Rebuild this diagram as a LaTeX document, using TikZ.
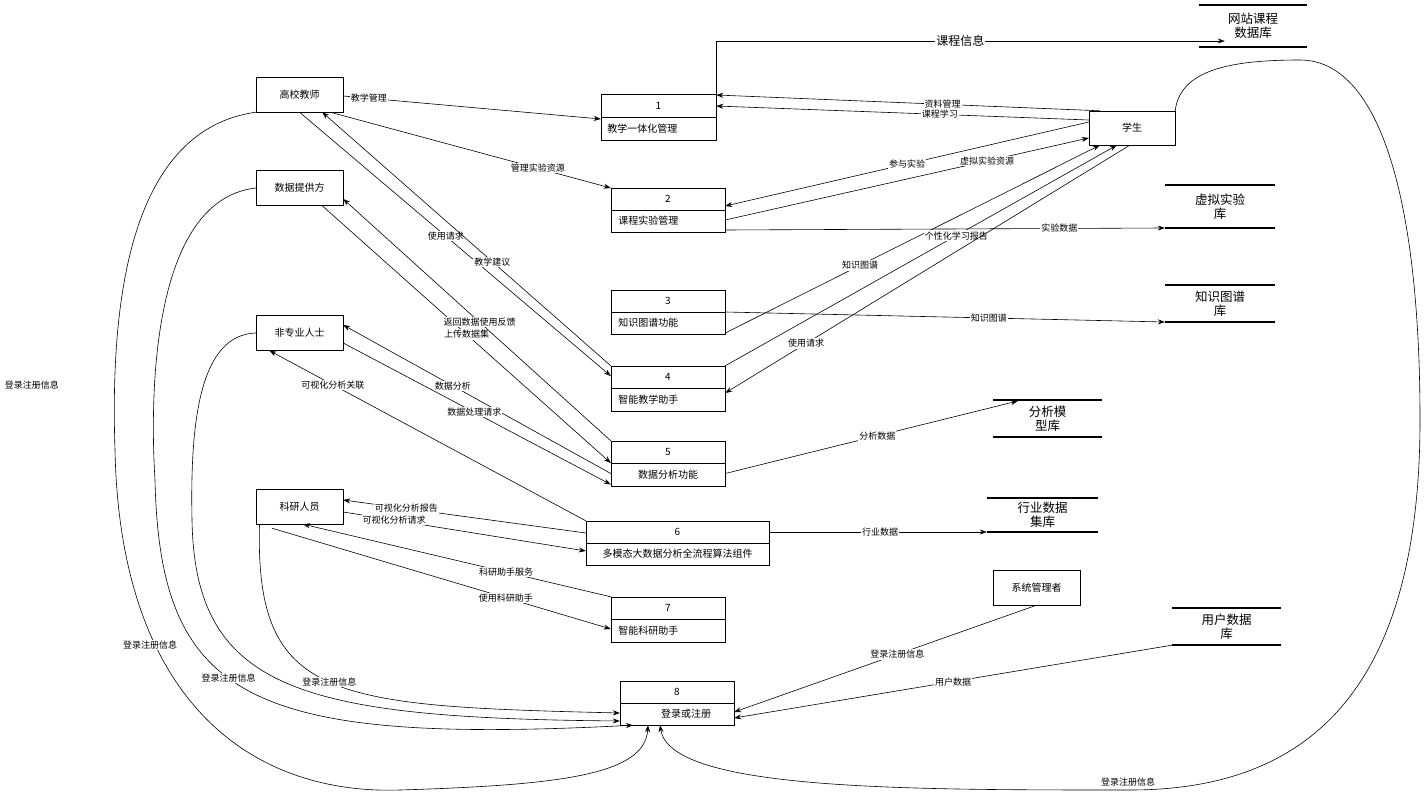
\documentclass[tikz,border=0pt]{standalone}
\usepackage{fontspec}
\setmainfont{Noto Sans CJK SC}
\usetikzlibrary{arrows.meta}
\begin{document}
\begin{tikzpicture}[x=1pt,y=-1pt,
  ent/.style={draw,minimum width=87pt,minimum height=35pt,font=\fontsize{10}{12}\selectfont,inner sep=0pt},
  proc/.style={draw,inner sep=0pt},
  store/.style={inner sep=0pt,font=\fontsize{12.5}{14}\selectfont,align=center},
  arr/.style={-{Stealth[length=7pt,width=5pt]},line width=0.6pt},
  lab/.style={fill=white,inner sep=1pt,font=\fontsize{9}{10}\selectfont},
  ptxt/.style={font=\fontsize{10}{12}\selectfont}]
\useasboundingbox (0,0) rectangle (1425,792);
% entities
\node[ent] (tea) at (299.5,94.5) {高校教师};
\node[ent] (prov) at (299.5,188) {数据提供方};
\node[ent] (nonp) at (299.5,333) {非专业人士};
\node[ent] (res) at (299.5,506.5) {科研人员};
\node[ent,minimum width=86pt,minimum height=34pt] (stu) at (1132,128) {学生};
\node[ent] (adm) at (1036.5,587.5) {系统管理者};
% processes
\newcommand\pr[9]{%
  \node[proc,minimum width=#4pt,minimum height=#5pt] (#1) at (#2,#3) {};
  \draw (#1.west) -- (#1.east);
  \node[ptxt] at ([yshift=#5pt/4]#1.center) {#6};
  \node[ptxt,anchor=#8] at ([xshift=#9,yshift=-#5pt/4]#1.#7) {\csname txt#1\endcsname};}
\def\txtpa{教学一体化管理}
\def\txtpb{课程实验管理}
\def\txtpc{知识图谱功能}
\def\txtpd{智能教学助手}
\def\txtpe{数据分析功能}
\def\txtpf{多模态大数据分析全流程算法组件}
\def\txtpg{智能科研助手}
\def\txtph{登录或注册}
\pr{pa}{658.5}{117}{115}{46}{1}{west}{west}{3pt}
\pr{pb}{668}{210}{114}{44}{2}{west}{west}{4pt}
\pr{pc}{668}{312}{114}{44}{3}{west}{west}{4pt}
\pr{pd}{668}{388.5}{114}{45}{4}{west}{west}{4pt}
\pr{pe}{668}{463.5}{114}{45}{5}{center}{center}{0pt}
\pr{pf}{677.5}{543}{183}{44}{6}{center}{center}{0pt}
\pr{pg}{668}{619.5}{114}{45}{7}{west}{west}{4pt}
\pr{ph}{677}{703}{114}{44}{8}{center}{center}{9pt}
% stores
\newcommand\st[5]{%
  \node[store,minimum width=#4pt,minimum height=#5pt] (#1) at (#2,#3) {\csname txt#1\endcsname};
  \draw[line width=1.5pt] (#1.north west) -- (#1.north east) (#1.south west) -- (#1.south east);}
\def\txtsa{网站课程\\数据库}
\def\txtsb{虚拟实验\\库}
\def\txtsc{知识图谱\\库}
\def\txtsd{分析模\\型库}
\def\txtse{行业数据\\集库}
\def\txtsf{用户数据\\库}
\st{sa}{1253}{26}{108}{42}
\st{sb}{1220}{206.5}{110}{43}
\st{sc}{1220}{303.5}{110}{37}
\st{sd}{1047.5}{418.5}{109}{37}
\st{se}{1042.5}{515}{111}{34}
\st{sf}{1226.5}{626.5}{109}{37}
% connectors
\draw[arr] ([yshift=-1.5pt]tea.east) -- node[lab,pos=0.1]{教学管理} ([yshift=-2pt]pa.west);
\draw[arr] (pa.north east) |- node[lab,pos=0.74,font=\fontsize{12}{14}\selectfont]{课程信息} ([xshift=26pt,yshift=-15pt]sa.west);
\draw[arr] ([xshift=11pt]stu.north west) -- node[lab,pos=0.41]{资料管理} ([yshift=22pt]pa.east);
\draw[arr] ([yshift=8pt]stu.west) -- node[lab,pos=0.4]{课程学习} ([yshift=11pt]pa.east);
\draw[arr] ([yshift=6pt]stu.west) -- node[lab,pos=0.5]{参与实验} ([yshift=4pt]pb.east);
\draw[arr] ([yshift=-10pt]pb.east) -- node[lab,pos=0.72]{虚拟实验资源} ([yshift=-10pt]stu.west);
\draw[arr] ([yshift=-20pt]pb.east) -- node[lab,pos=0.76]{实验数据} ([yshift=-21.5pt]sb.west);
\draw[arr] ([yshift=-21pt]pc.east) -- node[lab,pos=0.36]{知识图谱} ([xshift=11pt]stu.south west);
\draw[arr] (pd.north east) -- node[lab,pos=0.59]{个性化学习报告} ([xshift=28pt]stu.south west);
\draw[arr] ([xshift=41pt]stu.south west) -- node[lab,pos=0.8]{使用请求} ([yshift=-4.5pt]pd.east);
\draw[arr] (pc.east) -- node[lab,pos=0.6]{知识图谱} ([yshift=-18.5pt]sc.west);
\draw[arr] ([xshift=-13pt]tea.south east) -- node[lab,pos=0.74]{管理实验资源} ([yshift=22pt]pb.west);
\draw[arr] (tea.south) -- node[lab,pos=0.47]{使用请求} ([yshift=12.5pt]pd.west);
\draw[arr] (pd.north west) -- node[lab,pos=0.41]{教学建议} ([xshift=-21pt]tea.south east);
\draw[arr] ([xshift=-21pt]prov.south east) -- node[lab,pos=0.5]{上传数据集} ([yshift=0.5pt]pe.west);
\draw[arr] (pe.north west) -- node[lab,pos=0.49]{返回数据使用反馈} ([yshift=-11pt]prov.east);
\draw[arr] ([yshift=-10pt]pe.west) -- node[lab,pos=0.59]{数据分析} ([yshift=8pt]nonp.east);
\draw[arr] ([yshift=-10pt]nonp.east) -- node[lab,pos=0.49]{数据处理请求} ([yshift=-21pt]pe.west);
\draw[arr] (pf.north west) -- node[lab,pos=0.8]{可视化分析关联} ([xshift=-30pt]nonp.south);
\draw[arr] ([yshift=-10pt]pe.east) -- node[lab,pos=0.52]{分析数据} ([xshift=25pt,yshift=17.5pt]sd.west);
\draw[arr] ([yshift=11pt]pf.east) -- node[lab,pos=0.51]{行业数据} ([yshift=-17pt]se.west);
\draw[arr] ([yshift=10pt]pf.west) -- node[lab,pos=0.74]{可视化分析报告} ([yshift=6.5pt]res.east);
\draw[arr] ([yshift=-5.5pt]res.east) -- node[lab,pos=0.21]{可视化分析请求} ([yshift=-8pt]pf.west);
\draw[arr] (pg.north west) -- node[lab,pos=0.34]{科研助手服务} ([xshift=3.5pt]res.south);
\draw[arr] ([xshift=-27.5pt,yshift=-4pt]res.south) -- node[lab,pos=0.69]{使用科研助手} ([yshift=-9.5pt]pg.west);
\draw[arr] (adm.south) -- node[lab,pos=0.46]{登录注册信息} ([yshift=-9pt]ph.east);
\draw[arr] (sf.south west) -- node[lab,pos=0.5]{用户数据} ([yshift=-15pt]ph.east);
% curves to 8
\draw[arr] ([xshift=-40pt]res.south) .. controls (255,700) and (330,706) .. node[lab,pos=0.5]{登录注册信息} ([yshift=-10pt]ph.west);
\draw[arr] (nonp.west) .. controls (200,335) and (190,420) .. (192,520) .. controls (195,690) and (300,718) .. ([yshift=-18pt]ph.west);
\draw[arr] (prov.west) .. controls (150,200) and (150,400) .. (155,480) .. controls (160,700) and (250,745) .. node[lab,pos=0.44]{登录注册信息} ([xshift=-44pt]ph.south);
\draw[arr] (tea.south west) .. controls (130,130) and (110,300) .. (115,450) .. controls (120,700) and (250,795) .. (400,790) .. controls (560,785) and (645,775) .. ([xshift=-29pt]ph.south);
\node[lab] (tl) at (32,385) {登录注册信息};
\node[lab] (tl2) at (150,645) {登录注册信息};
\draw[arr] (stu.north east) .. controls (1180,70) and (1230,60) .. (1300,60) .. controls (1380,60) and (1420,200) .. (1420,420) .. controls (1420,700) and (1300,790) .. (1130,790) .. controls (900,790) and (670,790) .. ([xshift=-17pt]ph.south);
\node[lab] (sl) at (1128,782) {登录注册信息};
\end{tikzpicture}
\end{document}
